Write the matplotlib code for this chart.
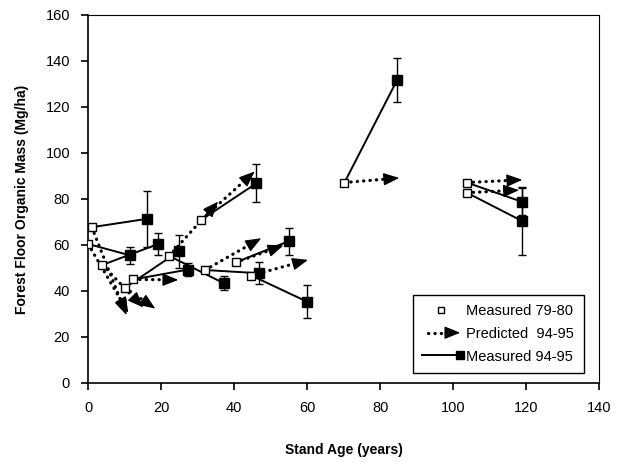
import matplotlib
matplotlib.use("Agg")
import matplotlib.pyplot as plt
from matplotlib.lines import Line2D
from matplotlib.patches import FancyArrowPatch
from matplotlib.legend_handler import HandlerBase

plt.rcParams['font.family'] = ['Liberation Sans', 'DejaVu Sans']

# measured 79-80 (open squares)
m79_x = [1.0, 0.0, 3.9, 10.1, 12.4, 22.2, 31.0, 32.0, 40.4, 44.7, 70.2, 103.7, 103.7]
m79_y = [67.7, 60.4, 51.3, 41.4, 45.0, 55.2, 70.9, 49.1, 52.4, 46.7, 87.1, 87.1, 82.7]

# predicted 94-95 (arrow tips)
pred_x = [10.5, 11.0, 15.1, 18.4, 24.7, 35.6, 45.6, 47.4, 53.5, 60.2, 85.2, 118.9, 118.0]
pred_y = [29.5, 30.5, 32.8, 32.3, 44.8, 78.8, 91.9, 62.9, 59.8, 53.5, 89.1, 88.3, 83.8]

# measured 94-95 (filled squares, with error bars)
m95_x = [16.0, 11.4, 19.2, 24.8, 27.4, 37.1, 46.1, 46.8, 54.9, 60.0, 84.6, 118.7, 118.7]
m95_y = [71.3, 55.5, 60.4, 57.2, 49.3, 43.4, 86.8, 47.7, 61.6, 35.3, 131.6, 78.8, 70.5]
m95_err = [12.0, 3.7, 4.6, 7.2, 2.8, 3.0, 8.2, 4.8, 5.8, 7.1, 9.6, 5.8, 14.8]

x_ticks = [0, 20, 40, 60, 80, 100, 120, 140]
y_ticks = [0, 20, 40, 60, 80, 100, 120, 140, 160]

DOT = dict(color='black', lw=2.3, linestyle=(0, (0.1, 1.9)), dash_capstyle='round')
HEAD = '-|>,head_length=0.6,head_width=0.24'


class ArrowHandler(HandlerBase):
    def create_artists(self, legend, orig_handle, xdescent, ydescent,
                       width, height, fontsize, trans):
        y = height / 2 - ydescent
        x0, x1 = -xdescent, width - xdescent
        dots = Line2D([x0 + 4, x1 - 9], [y, y], transform=trans, **DOT)
        head = FancyArrowPatch((x1 - 11, y), (x1, y), arrowstyle=HEAD,
                               mutation_scale=16, color='black', lw=1,
                               shrinkA=0, shrinkB=0, transform=trans)
        return [dots, head]


class EndSquareHandler(HandlerBase):
    def create_artists(self, legend, orig_handle, xdescent, ydescent,
                       width, height, fontsize, trans):
        y = height / 2 - ydescent
        x0, x1 = -xdescent, width - xdescent
        ln = Line2D([x0, x1], [y, y], color='black', lw=1.4, marker='s',
                    markersize=6, markevery=[1], transform=trans)
        return [ln]


fig, ax = plt.subplots(figsize=(6.25, 4.62), dpi=100)
fig.subplots_adjust(left=0.141, right=0.959, bottom=0.171, top=0.968)

for i in range(len(m79_x)):
    # solid line: measured 79-80 -> measured 94-95
    ax.plot([m79_x[i], m95_x[i]], [m79_y[i], m95_y[i]], color='black', lw=1.4, zorder=2)
    # dotted prediction with arrow head
    dx = pred_x[i] - m79_x[i]
    dy = pred_y[i] - m79_y[i]
    ax.plot([m79_x[i], pred_x[i] - 0.15 * dx], [m79_y[i], pred_y[i] - 0.15 * dy], zorder=3, **DOT)
    ax.annotate('', xy=(pred_x[i], pred_y[i]),
                xytext=(pred_x[i] - 0.2 * dx, pred_y[i] - 0.2 * dy),
                arrowprops=dict(arrowstyle=HEAD, color='black', lw=1,
                                shrinkA=0, shrinkB=0, mutation_scale=16),
                zorder=4)

ax.errorbar(m95_x, m95_y, yerr=m95_err, fmt='s', color='black', ms=6.5,
            ecolor='black', elinewidth=1, capsize=3, capthick=1, zorder=5)
ax.plot(m79_x, m79_y, 's', ms=5.5, mfc='white', mec='black', mew=1, zorder=6)

ax.set_xlim(0, 140)
ax.set_ylim(0, 160)
ax.set_xticks(x_ticks)
ax.set_yticks(y_ticks)
ax.tick_params(direction='out', length=5, width=1.2, labelsize=10.5, pad=8)
for s in ax.spines.values():
    s.set_linewidth(1.2)
ax.spines['top'].set_linewidth(0.8)
ax.spines['right'].set_linewidth(0.8)

ax.set_xlabel('Stand Age (years)', fontsize=10, fontweight='bold', labelpad=20)
ax.set_ylabel('Forest Floor Organic Mass (Mg/ha)', fontsize=10, fontweight='bold', labelpad=12)

h_open = Line2D([], [], ls='none', marker='s', ms=5, mfc='white', mec='black', mew=1)
h_arrow = object()
h_solid = object()
leg = ax.legend([h_open, h_arrow, h_solid],
                ['Measured 79-80', 'Predicted  94-95', 'Measured 94-95'],
                handler_map={h_arrow: ArrowHandler(), h_solid: EndSquareHandler()},
                loc='lower right', bbox_to_anchor=(0.969, 0.027), borderaxespad=0,
                fancybox=False, framealpha=1, edgecolor='black', fontsize=10.5,
                handlelength=2.6, handletextpad=0.4, labelspacing=0.6,
                borderpad=0.65)
leg.get_frame().set_linewidth(1)

fig.savefig('out.png', dpi=100)
